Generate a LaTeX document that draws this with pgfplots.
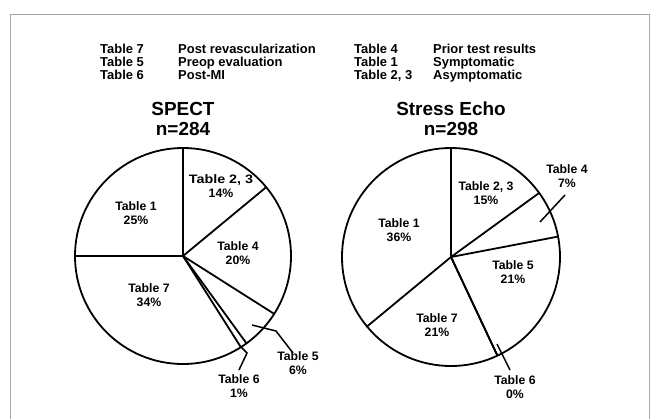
\documentclass[border=0pt]{standalone}
\usepackage{graphicx}
\usepackage{pgfplots}
\pgfplotsset{compat=1.18}
\usepackage{pgfplotstable}
\usepackage{fontspec}
\setmainfont{Liberation Sans}

% share of each group (percent) and cumulative end (percent), clockwise from 12 o'clock
\pgfplotstableread{
slice pct end
T23 14 14
T4 20 34
T5 6 40
T6 1 41
T7 34 75
T1 25 100
}\spect
\pgfplotstableread{
slice pct end
T23 15 15
T4 7 22
T5 21 43
T6 0 43
T7 21 64
T1 36 100
}\echo

\begin{document}
\begin{tikzpicture}
\useasboundingbox (0,0) rectangle (655bp,419bp);
\begin{axis}[
  at={(0,0)}, anchor=south west,
  width=655bp, height=419bp, scale only axis,
  xmin=0, xmax=655, ymin=0, ymax=419, y dir=reverse,
  hide axis, clip=false,
]
% frame
\draw[black!35, line width=1.3bp] (axis cs:10.5,419) -- (axis cs:10.5,14.5) -- (axis cs:649.5,14.5) -- (axis cs:649.5,419);

% legend text
\begin{scope}[every node/.style={anchor=base west, inner sep=0pt, font=\bfseries\fontsize{13}{13}\selectfont}]
\node at (axis cs:100,53.8) {Table 7};
\node at (axis cs:100,66.7) {Table 5};
\node at (axis cs:100,79.5) {Table 6};
\node at (axis cs:178,53.8) {Post revascularization};
\node at (axis cs:178,66.7) {Preop evaluation};
\node at (axis cs:178,79.5) {Post-MI};
\node at (axis cs:354,53.8) {Table 4};
\node at (axis cs:354,66.7) {Table 1};
\node at (axis cs:354,79.5) {Table 2, 3};
\node at (axis cs:433,53.8) {Prior test results};
\node at (axis cs:433,66.7) {Symptomatic};
\node at (axis cs:433,79.5) {Asymptomatic};
\end{scope}

% titles
\begin{scope}[every node/.style={anchor=base, inner sep=0pt, font=\bfseries\fontsize{19}{19}\selectfont}]
\node at (axis cs:183,115.5) {SPECT};
\node at (axis cs:183,135) {n=284};
\node at (axis cs:451,115.5) {Stress Echo};
\node at (axis cs:451,135) {n=298};
\end{scope}

% pies: rims
\draw[black, line width=1.8bp] (axis cs:183,256) circle[radius=108bp];
\draw[black, line width=1.8bp] (axis cs:451,257) circle[radius=109bp];

% slice boundaries
\addplot[black, line width=1.8bp, mark=none,
  quiver={u={108*cos(90-3.6*\thisrow{end})}, v={-108*sin(90-3.6*\thisrow{end})}}]
  table[x expr=183, y expr=256] {\spect};
\addplot[black, line width=1.8bp, mark=none,
  quiver={u={109*cos(90-3.6*\thisrow{end})}, v={-109*sin(90-3.6*\thisrow{end})}}]
  table[x expr=451, y expr=257] {\echo};

% leader lines
\draw[black, line width=1.5bp] (axis cs:252,325) -- (axis cs:276,331) -- (axis cs:293,353);
\draw[black, line width=1.5bp] (axis cs:241,347) -- (axis cs:247,353) -- (axis cs:239,370);
\draw[black, line width=1.5bp] (axis cs:540,222) -- (axis cs:565,195);
\draw[black, line width=1.5bp] (axis cs:497,344) -- (axis cs:510,370);

% slice labels
\begin{scope}[every node/.style={align=center, inner sep=0pt, font=\bfseries\fontsize{12.3}{14}\selectfont}]
\node at (axis cs:221,186) {\scalebox{1.17}[1]{Table 2, 3}\\14\%};
\node at (axis cs:136,213.5) {Table 1\\25\%};
\node at (axis cs:238,253.5) {Table 4\\20\%};
\node at (axis cs:149,295.5) {Table 7\\34\%};
\node at (axis cs:298,363.5) {Table 5\\6\%};
\node at (axis cs:239,386) {Table 6\\1\%};
\node at (axis cs:486,193) {Table 2, 3\\15\%};
\node at (axis cs:399,230.5) {Table 1\\36\%};
\node at (axis cs:513,272.5) {Table 5\\21\%};
\node at (axis cs:437,325) {Table 7\\21\%};
\node at (axis cs:567,176.5) {Table 4\\7\%};
\node at (axis cs:515,387.5) {Table 6\\0\%};
\end{scope}
\end{axis}
\end{tikzpicture}
\end{document}
